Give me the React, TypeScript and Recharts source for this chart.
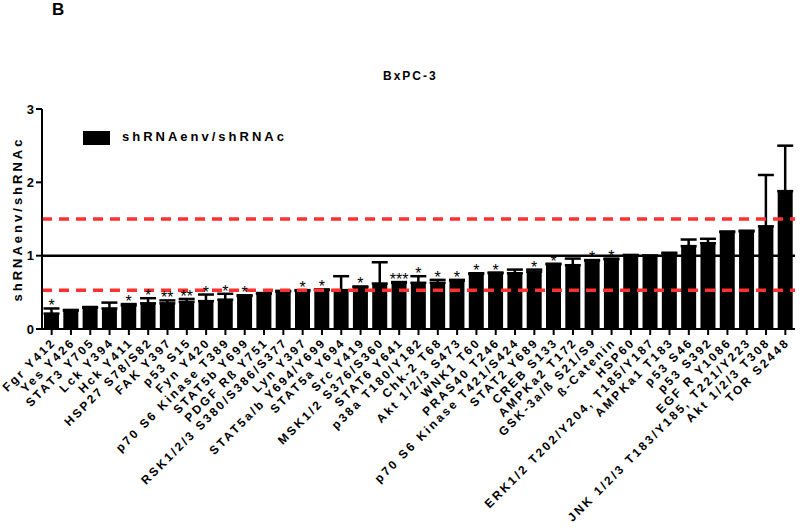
import React from 'react';
import { BarChart, Bar, XAxis, YAxis, ErrorBar, ReferenceLine, LabelList } from 'recharts';

// Panel B — BxPC-3, ratio shRNAenv/shRNAc por fosfoproteína
const categorias = [
  'Fgr Y412', 'Yes Y426', 'STAT3 Y705', 'Lck Y394', 'Hck Y411', 'HSP27 S78/S82', 'FAK Y397',
  'p53 S15', 'Fyn Y420', 'p70 S6 Kinase T389', 'STAT5b Y699', 'PDGF Rß Y751',
  'RSK1/2/3 S380/S386/S377', 'Lyn Y397', 'STAT5a/b Y694/Y699', 'STAT5a Y694', 'Src Y419',
  'MSK1/2 S376/S360', 'STAT6 Y641', 'p38a T180/Y182', 'Chk-2 T68', 'Akt 1/2/3 S473',
  'WNK1 T60', 'PRAS40 T246', 'p70 S6 Kinase T421/S424', 'STAT2 Y689', 'CREB S133',
  'AMPKa2 T172', 'GSK-3a/ß S21/S9', 'ß-Catenin', 'HSP60', 'ERK1/2 T202/Y204, T185/Y187',
  'AMPKa1 T183', 'p53 S46', 'p53 S392', 'EGF R Y1086', 'JNK 1/2/3 T183/Y185, T221/Y223',
  'Akt 1/2/3 T308', 'TOR S2448',
];

const valores = [
  0.21, 0.25, 0.29, 0.28, 0.32, 0.35, 0.35, 0.37, 0.38, 0.40, 0.45, 0.48, 0.51, 0.52, 0.53,
  0.53, 0.57, 0.62, 0.63, 0.63, 0.63, 0.66, 0.75, 0.76, 0.76, 0.78, 0.88, 0.87, 0.93, 0.95,
  1.0, 1.0, 1.03, 1.13, 1.17, 1.32, 1.33, 1.40, 1.88,
];

// só o lado de cima do erro aparece
const erros = [
  0.07, 0.01, 0.01, 0.08, 0.02, 0.07, 0.04, 0.04, 0.09, 0.08, 0.01, 0.01, 0.01, 0.01, 0.01,
  0.19, 0.01, 0.29, 0.01, 0.09, 0.04, 0.01, 0.01, 0.01, 0.05, 0.03, 0.01, 0.09, 0.01, 0.01,
  0.01, 0.0, 0.01, 0.09, 0.06, 0.01, 0.01, 0.70, 0.62,
];

const estrelas = [
  '*', '', '', '', '*', '*', '**', '**', '*', '*', '*', '', '', '*', '*', '', '*', '', '***',
  '*', '*', '*', '*', '*', '', '*', '*', '', '*', '*', '', '', '', '', '', '', '', '', '',
];

const yTicks = [0, 1, 2, 3];
const limiteSup = 1.5;
const limiteInf = 0.53;

const data = categorias.map((nome, i) => ({
  nome,
  valor: valores[i],
  erro: [0, erros[i]],
  estrela: estrelas[i],
  e: erros[i],
}));

const FONTE = '"Liberation Sans", Arial, sans-serif';

function TickX({ x, y, payload }: any) {
  return (
    <text
      transform={`translate(${x + 5},${y + 6}) rotate(-45)`}
      textAnchor="end"
      fontSize={12}
      fontWeight="bold"
      letterSpacing={2.4}
      fontFamily={FONTE}
      fill="#000"
    >
      {payload.value}
    </text>
  );
}

function Estrela(props: any) {
  const { x, y, width, height, index } = props;
  const d = data[index];
  if (!d.estrela) return null;
  const pxPorUnidade = height / d.valor;
  const topo = y - d.e * pxPorUnidade;
  return (
    <text
      x={x + width / 2}
      y={topo + 3}
      textAnchor="middle"
      fontSize={16}
      fontFamily={FONTE}
      letterSpacing={0}
      fill="#000"
    >
      {d.estrela}
    </text>
  );
}

export default function App() {
  return (
    <div style={{ position: 'absolute', left: 0, top: 0, width: 800, height: 528, background: '#fff', fontFamily: FONTE }}>
      <div style={{ position: 'absolute', left: 52, top: 0, fontSize: 17, fontWeight: 'bold' }}>B</div>
      <div style={{ position: 'absolute', left: 383, top: 69, fontSize: 12, fontWeight: 'bold', letterSpacing: 2 }}>BxPC-3</div>
      <div style={{ position: 'absolute', left: 83, top: 131, width: 27, height: 14, background: '#000' }} />
      <div style={{ position: 'absolute', left: 122, top: 129, fontSize: 13, fontWeight: 'bold', letterSpacing: 3 }}>shRNAenv/shRNAc</div>
      <div
        style={{
          position: 'absolute', left: 17, top: 219, fontSize: 13, fontWeight: 'bold', letterSpacing: 3,
          transform: 'translate(-50%, -50%) rotate(-90deg)', whiteSpace: 'nowrap',
        }}
      >
        shRNAenv/shRNAc
      </div>
      <BarChart
        width={800}
        height={528}
        data={data}
        margin={{ top: 109, right: 5, left: 0, bottom: 0 }}
        barSize={15}
      >
        <XAxis
          dataKey="nome"
          interval={0}
          height={199}
          tick={<TickX />}
          axisLine={{ stroke: '#000', strokeWidth: 2 }}
          tickLine={{ stroke: '#000', strokeWidth: 2 }}
          tickSize={6}
        />
        <YAxis
          width={42}
          domain={[0, 3]}
          ticks={yTicks}
          interval={0}
          axisLine={{ stroke: '#000', strokeWidth: 2 }}
          tickLine={{ stroke: '#000', strokeWidth: 2 }}
          tickSize={6}
          tick={{ fill: '#000', fontSize: 13, fontWeight: 'bold', fontFamily: FONTE }}
        />
        <Bar dataKey="valor" fill="#000" isAnimationActive={false}>
          <ErrorBar dataKey="erro" direction="y" width={8} stroke="#000" strokeWidth={2.5} />
          <LabelList dataKey="estrela" content={<Estrela />} />
        </Bar>
        <ReferenceLine y={1} stroke="#000" strokeWidth={2.5} />
        <ReferenceLine y={limiteSup} stroke="#ff3030" strokeWidth={3.5} strokeDasharray="10 7" />
        <ReferenceLine y={limiteInf} stroke="#ff3030" strokeWidth={3.5} strokeDasharray="10 7" />
      </BarChart>
    </div>
  );
}
